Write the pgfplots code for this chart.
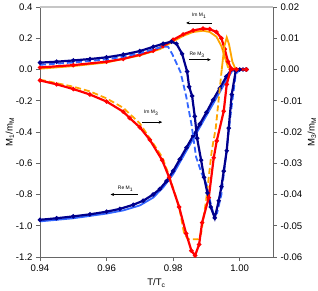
\documentclass[border=0pt]{standalone}
\usepackage{pgfplots}
\pgfplotsset{compat=1.18}
\usepackage{fontspec}
\setmainfont{Liberation Sans}
\usetikzlibrary{arrows.meta}
\definecolor{navyb}{RGB}{0,0,140}
\definecolor{lblue}{RGB}{51,102,255}
\definecolor{dred}{RGB}{255,0,0}
\definecolor{dorange}{RGB}{255,165,0}
\pgfplotsset{
  common/.style={scale only axis, width=233bp, height=250bp,
    xmin=0.94, xmax=1.01,
    tick align=outside, major tick length=4bp,
    tick style={color=gray!80!black, line width=0.6pt},
    tick label style={font=\fontsize{9.6}{11}\selectfont},
    axis line style={draw=gray!80!black, line width=0.8pt},
    clip=true},
  datastyle/.style={line width=2.2bp, mark=*, mark size=0.9bp},
}
\begin{document}
\begin{tikzpicture}
\begin{axis}[common,
  ymin=-1.2, ymax=0.4,
  axis x line*=bottom, axis y line*=left,
  xtick={0.94,0.96,0.98,1.00}, xticklabels={0.94,0.96,0.98,1.00},
  ytick={-1.2,-1.0,-0.8,-0.6,-0.4,-0.2,0,0.2,0.4},
  yticklabels={-1.2,-1.0,-0.8,-0.6,-0.4,-0.2,0.0,0.2,0.4},
]
% Re M1 fit
\addplot[lblue, line width=1.8bp] coordinates {
(0.940,-0.972)(0.950,-0.952)(0.960,-0.922)(0.965,-0.902)(0.970,-0.870)(0.974,-0.820)
(0.977,-0.755)(0.980,-0.670)(0.984,-0.520)(0.988,-0.370)(0.992,-0.220)(0.996,-0.070)
(0.998,0.000)(1.002,0.000)};
% Im M1 fit
\addplot[dorange, line width=1.8bp] coordinates {
(0.940,0.005)(0.950,0.022)(0.960,0.045)(0.970,0.090)(0.976,0.130)(0.980,0.180)
(0.983,0.215)(0.986,0.240)(0.989,0.248)(0.991,0.240)(0.993,0.210)(0.9945,0.150)
(0.9955,0.080)(0.9965,0.015)(0.998,0.000)(1.002,0.000)};
% Re M1 data
\addplot[navyb, datastyle] coordinates {
(0.940,-0.962)(0.945,-0.952)(0.950,-0.940)(0.955,-0.927)(0.960,-0.910)(0.964,-0.892)
(0.968,-0.866)(0.971,-0.840)(0.974,-0.800)(0.976,-0.765)(0.978,-0.715)(0.980,-0.650)
(0.982,-0.575)(0.984,-0.500)(0.986,-0.425)(0.988,-0.350)(0.990,-0.275)(0.992,-0.195)
(0.994,-0.120)(0.996,-0.045)(0.9975,0.000)(0.999,0.000)(1.001,0.000)(1.002,0.000)};
% Im M1 data
\addplot[dred, datastyle] coordinates {
(0.940,0.013)(0.950,0.028)(0.960,0.050)(0.965,0.068)(0.970,0.095)(0.974,0.120)
(0.977,0.150)(0.980,0.190)(0.983,0.225)(0.986,0.250)(0.989,0.262)(0.991,0.258)
(0.993,0.240)(0.9945,0.200)(0.9955,0.130)(0.9965,0.050)(0.9975,0.005)(0.999,0.000)
(1.002,0.000)};
\draw[gray!45, line width=1.2pt] (rel axis cs:0,1) -- (rel axis cs:1,1);
% annotations
\node[font=\fontsize{5}{6}\selectfont] at (axis cs:0.9878,0.343) {Im M\textsubscript{1}};
\draw[-{Stealth[length=3.5bp,width=3bp]}, line width=0.4pt] (axis cs:0.9916,0.298) -- (axis cs:0.9839,0.298);
\node[font=\fontsize{5}{6}\selectfont] at (axis cs:0.9872,0.095) {Re M\textsubscript{3}};
\draw[-{Stealth[length=3.5bp,width=3bp]}, line width=0.4pt] (axis cs:0.9848,0.063) -- (axis cs:0.9913,0.063);
\node[font=\fontsize{5}{6}\selectfont] at (axis cs:0.9734,-0.279) {Im M\textsubscript{3}};
\draw[-{Stealth[length=3.5bp,width=3bp]}, line width=0.4pt] (axis cs:0.9707,-0.337) -- (axis cs:0.9767,-0.337);
\node[font=\fontsize{5}{6}\selectfont] at (axis cs:0.9657,-0.762) {Re M\textsubscript{1}};
\draw[-{Stealth[length=3.5bp,width=3bp]}, line width=0.4pt] (axis cs:0.9693,-0.800) -- (axis cs:0.9612,-0.800);
\end{axis}
\begin{axis}[common,
  ymin=-0.06, ymax=0.02,
  axis y line*=right, axis x line=none, xtick=\empty,
  ytick={-0.06,-0.05,-0.04,-0.03,-0.02,-0.01,0,0.01,0.02},
  yticklabels={-0.06,-0.05,-0.04,-0.03,-0.02,-0.01,0.00,0.01,0.02},
]
% Re M3 fit
\addplot[lblue, line width=1.8bp, dash pattern=on 6bp off 3bp] coordinates {
(0.940,0.0015)(0.950,0.00225)(0.960,0.00325)(0.965,0.0041)(0.970,0.00525)(0.974,0.0065)
(0.977,0.0073)(0.9785,0.00725)(0.9797,0.005)(0.9822,-0.00075)(0.9839,-0.0085)
(0.9855,-0.0175)(0.9869,-0.028)(0.9885,-0.033)(0.9901,-0.037)(0.9912,-0.0425)
(0.9922,-0.0465)(0.9932,-0.046)(0.9945,-0.040)(0.9958,-0.02825)(0.9972,-0.015)
(0.9988,-0.0015)(1.000,0.000)(1.002,0.000)};
% Im M3 fit
\addplot[dorange, line width=1.8bp, dash pattern=on 6bp off 3bp] coordinates {
(0.940,-0.00325)(0.950,-0.0055)(0.955,-0.007)(0.960,-0.00925)(0.965,-0.01225)
(0.970,-0.01725)(0.9767,-0.028)(0.9788,-0.034)(0.9818,-0.044)(0.9833,-0.0525)
(0.9845,-0.0543)(0.9875,-0.0543)(0.9884,-0.0525)(0.9899,-0.042)(0.9916,-0.026)
(0.9928,-0.01875)(0.9946,0.000)};
\addplot[dorange, line width=1.8bp] coordinates {
(0.9946,0.000)(0.9954,0.0075)(0.9961,0.01025)(0.9968,0.008)(0.9978,0.0025)
(0.9988,0.000)(1.002,0.000)};
% Re M3 data
\addplot[navyb, datastyle] coordinates {
(0.940,0.0022)(0.945,0.0025)(0.950,0.0029)(0.955,0.00335)(0.960,0.0039)(0.965,0.00475)
(0.970,0.0059)(0.974,0.00725)(0.977,0.00825)(0.9795,0.0089)(0.981,0.00825)
(0.9827,0.005)(0.9842,-0.00065)(0.9848,-0.0055)(0.9857,-0.0085)(0.9865,-0.015)
(0.9872,-0.022)(0.9884,-0.029)(0.9893,-0.0345)(0.9903,-0.0395)(0.9913,-0.044)
(0.9925,-0.0475)(0.9937,-0.042)(0.9945,-0.0375)(0.9952,-0.0325)(0.9961,-0.026)
(0.9967,-0.01875)(0.9976,-0.008)(0.9988,-0.0005)(1.000,0.000)(1.002,0.000)};
% Im M3 data
\addplot[dred, datastyle] coordinates {
(0.940,-0.0035)(0.945,-0.00475)(0.950,-0.00625)(0.955,-0.008)(0.960,-0.01025)
(0.965,-0.0135)(0.9669,-0.0155)(0.970,-0.0185)(0.973,-0.0225)(0.9767,-0.029)
(0.9788,-0.0345)(0.9818,-0.044)(0.9839,-0.0525)(0.9855,-0.058)(0.9866,-0.0595)
(0.9878,-0.056)(0.9887,-0.049)(0.9907,-0.041)(0.9922,-0.02825)(0.9931,-0.02285)
(0.9952,-0.01335)(0.9961,-0.00475)(0.9973,0.000)(0.999,0.000)(1.002,0.000)};
\end{axis}
\node[rotate=90, font=\fontsize{9.6}{11}\selectfont] at ([xshift=-30bp]current axis.west) {M\textsubscript{1}/m\textsubscript{M}};
\node[rotate=90, font=\fontsize{9.6}{11}\selectfont] at ([xshift=39bp]current axis.east) {M\textsubscript{3}/m\textsubscript{M}};
\node[font=\fontsize{9.6}{11}\selectfont] at ([yshift=-26bp]current axis.south) {T/T\textsubscript{c}};
\pgfresetboundingbox
\path ([shift={(-40bp,-34bp)}]current axis.south west) rectangle ++(318bp,291bp);
\end{tikzpicture}
\end{document}
